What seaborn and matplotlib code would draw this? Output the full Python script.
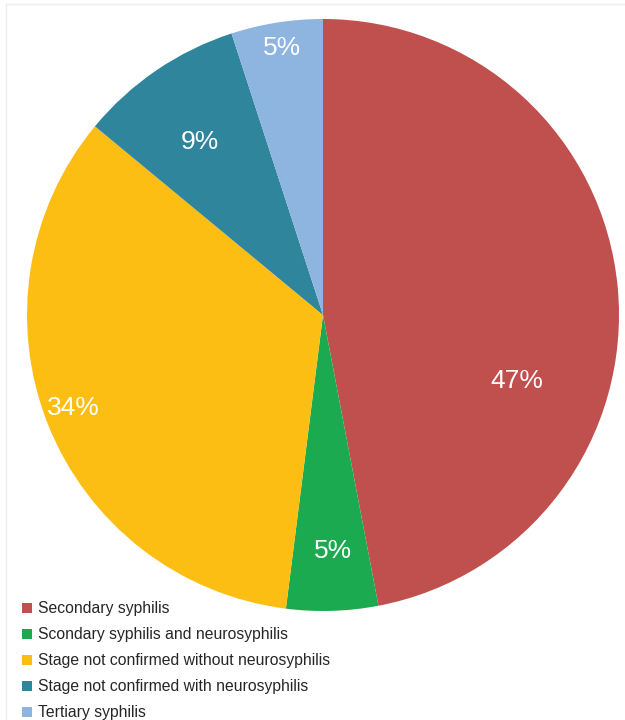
import matplotlib
matplotlib.use("Agg")
import matplotlib.pyplot as plt
import seaborn as sns
from matplotlib.patches import Patch
from matplotlib.lines import Line2D

categories = [
    "Secondary syphilis",
    "Scondary syphilis and neurosyphilis",
    "Stage not confirmed without neurosyphilis",
    "Stage not confirmed with neurosyphilis",
    "Tertiary syphilis",
]
shares = [47, 5, 34, 9, 5]
colors = ["#C0504D", "#1BAA4F", "#FDBE14", "#2E859C", "#8EB4E0"]

sns.set_theme(style="white")
plt.rcParams["font.family"] = ["Liberation Sans", "DejaVu Sans"]

fig = plt.figure(figsize=(6.25, 7.2), dpi=100)
ax = fig.add_axes([0.0432, 0.1514, 592 / 625, 592 / 720])

wedges, texts, autotexts = ax.pie(
    shares, colors=colors, startangle=90, counterclock=False,
    autopct="%d%%", pctdistance=0.75, radius=1,
    wedgeprops=dict(linewidth=0, edgecolor="none"),
    textprops=dict(color="white", fontsize=19),
)
ax.set_xlim(-1, 1)
ax.set_ylim(-1, 1)
ax.set_aspect("equal")

# label placement, as radius fractions from centre
label_pos = [(0.655, -0.223), (0.034, -0.797), (-0.845, -0.314),
             (-0.416, 0.584), (-0.139, 0.902)]
for t, (x, y) in zip(autotexts, label_pos):
    t.set_position((x, y))
    t.set_ha("center")
    t.set_va("center")

handles = [Patch(facecolor=c, edgecolor="none") for c in colors]
fig.legend(handles, categories, loc="upper left",
           bbox_to_anchor=(0.035, 0.165), frameon=False, fontsize=11.35,
           handlelength=0.62, handleheight=0.62, handletextpad=0.38,
           labelspacing=0.7, borderaxespad=0, borderpad=0)

# faint frame lines at top and left
fig.add_artist(Line2D([0.01, 1], [0.994, 0.994], color="#EEEEEE", lw=1,
                      transform=fig.transFigure))
fig.add_artist(Line2D([0.01, 0.01], [0, 0.994], color="#EEEEEE", lw=1,
                      transform=fig.transFigure))

fig.savefig("out.png", dpi=100)
plt.close()
